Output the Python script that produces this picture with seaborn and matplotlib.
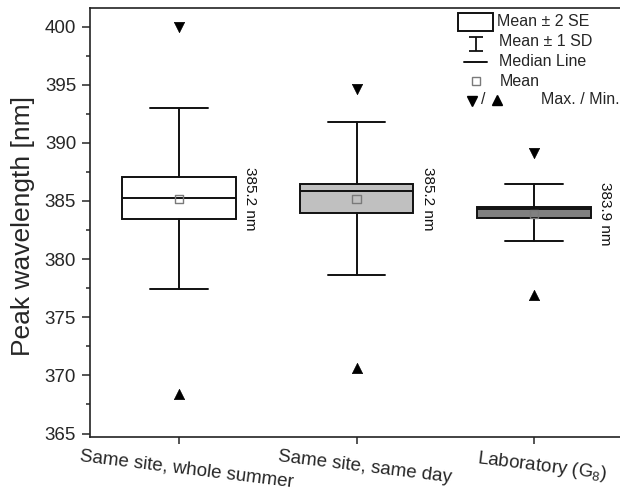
import numpy as np
import pandas as pd
import matplotlib
matplotlib.use("Agg")
import matplotlib.pyplot as plt
import seaborn as sns
from matplotlib.path import Path
from matplotlib.patches import Rectangle
from matplotlib.lines import Line2D

# ---------------- data ----------------
categories = ["Same site, whole summer", "Same site, same day", "Laboratory (G$_8$)"]
mean_vals = [385.2, 385.2, 383.9]
median_vals = [385.3, 385.9, 384.3]
se2_low = [383.45, 384.0, 383.5]
se2_high = [387.05, 386.5, 384.45]
sd_low = [377.45, 378.65, 381.55]
sd_high = [393.0, 391.8, 386.45]
max_vals = [400.0, 394.6, 389.1]
min_vals = [368.4, 370.6, 376.9]
box_colors = ["#ffffff", "#c0c0c0", "#808080"]
mean_labels = [f"{m:.1f} nm" for m in mean_vals]
yticks = [365, 370, 375, 380, 385, 390, 395, 400]

sns.set_style("ticks")
plt.rcParams["font.family"] = ["Liberation Sans", "DejaVu Sans"]
plt.rcParams["mathtext.fontset"] = "custom"
plt.rcParams["mathtext.rm"] = "Liberation Sans"
plt.rcParams["mathtext.it"] = "Liberation Sans:italic"

W, H = 620, 495
fig = plt.figure(figsize=(W / 100, H / 100), dpi=100)
ax_l, ax_r, ax_t, ax_b = 90, 623, 8, 437
ax = fig.add_axes([ax_l / W, (H - ax_b) / H, (ax_r - ax_l) / W, (ax_b - ax_t) / H])

pos = np.arange(len(categories))
stats = []
for i in range(len(categories)):
    stats.append(dict(med=median_vals[i], q1=se2_low[i], q3=se2_high[i],
                      whislo=sd_low[i], whishi=sd_high[i], fliers=[],
                      mean=mean_vals[i], label=categories[i]))

bp = ax.bxp(stats, positions=pos, widths=0.64, capwidths=0.325,
            patch_artist=True, showmeans=False, showfliers=False,
            boxprops=dict(edgecolor="#111111", linewidth=1.4),
            whiskerprops=dict(color="#111111", linewidth=1.4),
            capprops=dict(color="#111111", linewidth=1.4),
            medianprops=dict(color="#111111", linewidth=1.4))
for patch, c in zip(bp["boxes"], box_colors):
    patch.set_facecolor(c)

df = pd.DataFrame({"x": pos, "mean": mean_vals, "max": max_vals, "min": min_vals})
sns.scatterplot(data=df, x="x", y="mean", marker="s", s=36, facecolor="none",
                edgecolor="#7a7a7a", linewidth=1.0, ax=ax, zorder=5)
sns.scatterplot(data=df, x="x", y="max", marker="v", s=55, color="black",
                edgecolor="black", linewidth=0.5, ax=ax, zorder=5)
sns.scatterplot(data=df, x="x", y="min", marker="^", s=55, color="black",
                edgecolor="black", linewidth=0.5, ax=ax, zorder=5)

for i in range(len(categories)):
    ax.text(pos[i] + 0.40, mean_vals[i], mean_labels[i], rotation=270,
            ha="center", va="center", fontsize=11, color="#111111")

ax.set_xlim(-0.5, 2.5)
ax.set_ylim(364.7, 401.6)
ax.set_yticks(yticks)
ax.set_yticks(np.arange(367.5, 401, 5), minor=True)
# major x ticks carry the marks, minor x ticks (slightly to the right) carry the labels
ax.set_xticks(pos)
ax.set_xticklabels([])
ax.set_xticks(pos + 0.045, minor=True)
ax.set_xticklabels(categories, minor=True, rotation=-7, ha="center", fontsize=13.5)
ax.tick_params(axis="y", which="major", length=6, width=1.1, labelsize=13.5, pad=4)
ax.tick_params(axis="y", which="minor", length=3, width=1.1)
ax.tick_params(axis="x", which="major", length=5, width=1.1)
ax.tick_params(axis="x", which="minor", length=0, pad=8)
ax.set_xlabel("")
ax.set_ylabel("Peak wavelength [nm]", fontsize=19)
ax.yaxis.set_label_coords((35 - ax_l) / (ax_r - ax_l), (ax_b - 226) / (ax_b - ax_t))
for s in ["left", "bottom", "top"]:
    ax.spines[s].set_visible(True)
    ax.spines[s].set_linewidth(1.2)
    ax.spines[s].set_color("#222222")
ax.spines["right"].set_visible(False)

# ---------------- manual legend (pixel -> axes fraction) ----------------
def fx(px):
    return (px - ax_l) / (ax_r - ax_l)

def fy(py):
    return (ax_b - py) / (ax_b - ax_t)

T = ax.transAxes
ax.add_patch(Rectangle((fx(458), fy(31)), fx(493) - fx(458), fy(13) - fy(31),
                       transform=T, facecolor="white", edgecolor="#111111",
                       linewidth=1.4, clip_on=False, zorder=6))
ibar = Path([(-0.5, 0.5), (0.5, 0.5), (0, 0.5), (0, -0.5), (-0.5, -0.5), (0.5, -0.5)],
            [Path.MOVETO, Path.LINETO, Path.MOVETO, Path.LINETO, Path.MOVETO, Path.LINETO])
ax.add_line(Line2D([fx(476)], [fy(44)], transform=T, marker=ibar, markersize=10,
                   markeredgecolor="#111111", markeredgewidth=1.3, linestyle="none"))
ax.add_line(Line2D([fx(464), fx(487)], [fy(62), fy(62)], transform=T,
                   color="#111111", linewidth=1.4))
ax.add_line(Line2D([fx(476)], [fy(81)], transform=T, marker="s", markersize=6,
                   markerfacecolor="none", markeredgecolor="#7a7a7a",
                   markeredgewidth=1.0, linestyle="none"))
ax.add_line(Line2D([fx(472)], [fy(100.5)], transform=T, marker="v", markersize=7.5,
                   color="black", linestyle="none"))
ax.add_line(Line2D([fx(497)], [fy(99.5)], transform=T, marker="^", markersize=7.5,
                   color="black", linestyle="none"))
ax.text(fx(483), fy(100), "/", transform=T, ha="center", va="center", fontsize=11.5)
leg_texts = ["Mean ± 2 SE", "Mean ± 1 SD", "Median Line", "Mean", "Max. / Min."]
leg_x = [497, 499, 499, 500, 541]
leg_y = [21.7, 41.7, 61.7, 81.7, 100]
for t, x, y in zip(leg_texts, leg_x, leg_y):
    ax.text(fx(x), fy(y), t, transform=T, ha="left", va="center", fontsize=11.5)

fig.savefig("out.png", dpi=100)
